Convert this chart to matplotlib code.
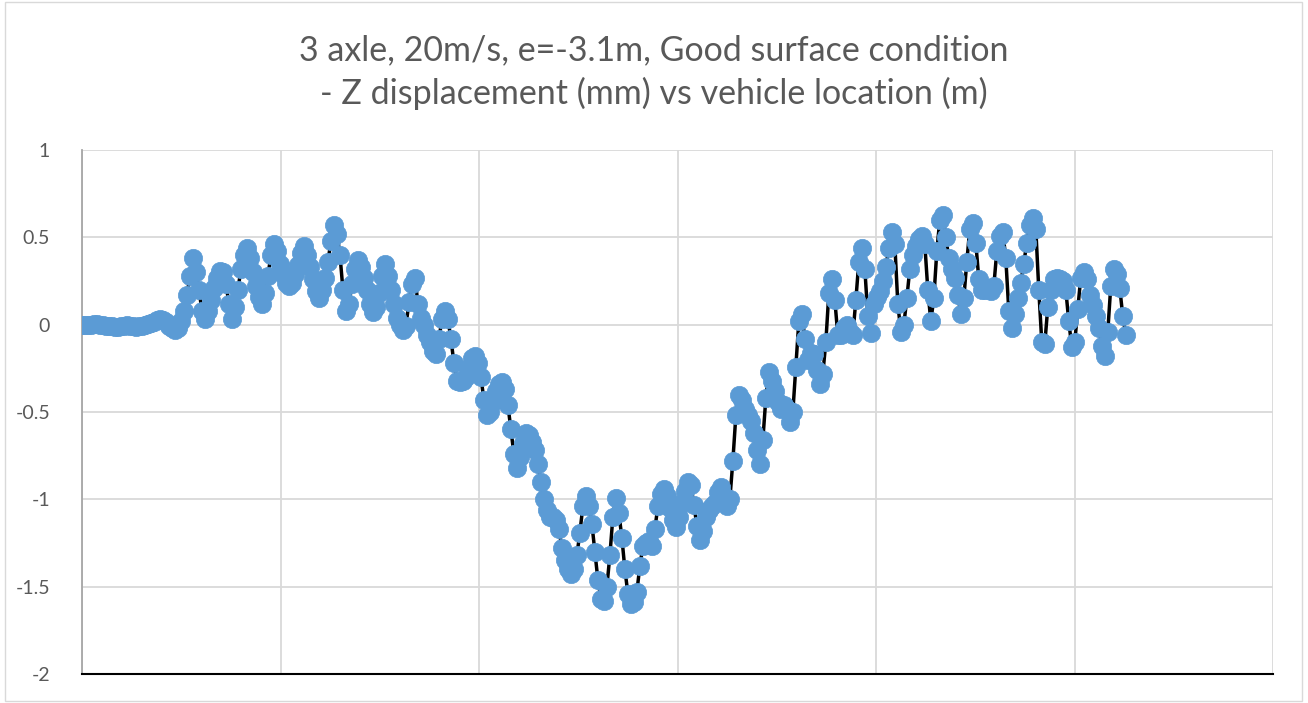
import numpy as np
import matplotlib
matplotlib.use("Agg")
import matplotlib.pyplot as plt
from matplotlib.patches import Rectangle

plt.rcParams['font.family'] = ['Lato', 'DejaVu Sans']

title = "3 axle, 20m/s, e=-3.1m, Good surface condition\n- Z displacement (mm) vs vehicle location (m)"

# Z displacement (mm), sampled at equal steps of vehicle location
z_disp = [
    0.0, 0.0, 0.0, 0.0, 0.003, 0.003, 0.0, -0.003, -0.005, -0.008,
    -0.01, -0.012, -0.012, -0.01, -0.005, -0.003, -0.005, -0.01, -0.012, -0.01,
    -0.005, 0.0, 0.005, 0.01, 0.015, 0.025, 0.03, 0.028, 0.015, -0.005,
    -0.02, -0.028, -0.02, 0.02, 0.08, 0.17, 0.28, 0.38, 0.3, 0.2,
    0.08, 0.03, 0.08, 0.14, 0.21, 0.27, 0.31, 0.3, 0.23, 0.12,
    0.03, 0.1, 0.2, 0.32, 0.4, 0.44, 0.38, 0.3, 0.22, 0.16,
    0.12, 0.18, 0.28, 0.4, 0.46, 0.42, 0.35, 0.29, 0.24, 0.22,
    0.24, 0.29, 0.34, 0.41, 0.45, 0.4, 0.33, 0.26, 0.19, 0.15,
    0.2, 0.27, 0.36, 0.48, 0.57, 0.52, 0.4, 0.2, 0.08, 0.12,
    0.23, 0.32, 0.37, 0.33, 0.27, 0.2, 0.12, 0.07, 0.1, 0.18,
    0.28, 0.35, 0.28, 0.2, 0.12, 0.04, 0.0, -0.03, -0.01, 0.13,
    0.23, 0.27, 0.12, 0.04, 0.0, -0.06, -0.1, -0.15, -0.17, -0.08,
    0.03, 0.08, 0.03, -0.08, -0.22, -0.32, -0.33, -0.32, -0.3, -0.25,
    -0.19, -0.18, -0.22, -0.3, -0.43, -0.52, -0.5, -0.44, -0.38, -0.34,
    -0.33, -0.37, -0.46, -0.6, -0.74, -0.82, -0.76, -0.68, -0.62, -0.63,
    -0.67, -0.72, -0.8, -0.9, -1.0, -1.06, -1.1, -1.1, -1.12, -1.17,
    -1.28, -1.35, -1.4, -1.43, -1.4, -1.32, -1.19, -1.04, -0.98, -1.04,
    -1.14, -1.3, -1.46, -1.57, -1.58, -1.5, -1.32, -1.1, -0.99, -1.08,
    -1.22, -1.4, -1.54, -1.6, -1.59, -1.53, -1.38, -1.27, -1.25, -1.24,
    -1.27, -1.17, -1.04, -0.97, -0.94, -0.98, -1.05, -1.12, -1.16, -1.1,
    -1.02, -0.95, -0.9, -0.92, -1.03, -1.15, -1.23, -1.18, -1.1, -1.06,
    -1.04, -1.02, -0.96, -0.93, -0.98, -1.04, -1.0, -0.78, -0.52, -0.4,
    -0.43, -0.48, -0.52, -0.55, -0.62, -0.72, -0.8, -0.66, -0.42, -0.27,
    -0.32, -0.38, -0.44, -0.48, -0.46, -0.48, -0.56, -0.5, -0.24, 0.02,
    0.06, -0.08, -0.2, -0.16, -0.17, -0.26, -0.34, -0.28, -0.1, 0.18,
    0.26, 0.14, -0.06, -0.06, -0.02, 0.0, -0.04, -0.06, 0.14, 0.36,
    0.44, 0.32, 0.05, -0.05, 0.12, 0.16, 0.19, 0.25, 0.33, 0.44,
    0.53, 0.46, 0.12, -0.04, 0.0, 0.15, 0.32, 0.4, 0.45, 0.49,
    0.51, 0.46, 0.2, 0.02, 0.15, 0.42, 0.6, 0.63, 0.5, 0.38,
    0.32, 0.27, 0.17, 0.06, 0.15, 0.36, 0.55, 0.58, 0.47, 0.26,
    0.2, 0.2, 0.21, 0.19, 0.22, 0.42, 0.51, 0.53, 0.38, 0.08,
    -0.02, 0.06, 0.15, 0.24, 0.35, 0.47, 0.57, 0.61, 0.55, 0.2,
    -0.1, -0.11, 0.1, 0.2, 0.26, 0.27, 0.26, 0.25, 0.2, 0.02,
    -0.13, -0.1, 0.09, 0.27, 0.3, 0.26, 0.17, 0.11, 0.05, -0.02,
    -0.12, -0.18, -0.04, 0.22, 0.32, 0.29, 0.21, 0.05, -0.06,
]

loc_step = 0.01511   # vehicle location increment between samples
location = np.arange(len(z_disp)) * loc_step

y_ticks = [1, 0.5, 0, -0.5, -1, -1.5, -2]
y_tick_labels = ["1", "0.5", "0", "-0.5", "-1", "-1.5", "-2"]
x_grid = [0, 1, 2, 3, 4, 5, 6]

W, H = 1308, 703
fig = plt.figure(figsize=(W / 100, H / 100), dpi=100)
fig.patch.set_facecolor("white")

# chart border
fig.add_artist(Rectangle((5 / W, 2 / H), 1297 / W, 699 / H, transform=fig.transFigure,
                         fill=False, edgecolor="#D9D9D9", linewidth=1.0))

ax = fig.add_axes([82 / W, 1 - 674 / H, (1273 - 82) / W, (674 - 150) / H])
ax.set_xlim(0, 6)
ax.set_ylim(-2, 1)

ax.plot(location, z_disp, color="black", linewidth=2.5, marker="o",
        markersize=13.2, markerfacecolor="#5B9BD5", markeredgecolor="#5B9BD5",
        markeredgewidth=0.5, zorder=3)

ax.set_yticks(y_ticks)
ax.set_yticklabels(y_tick_labels)
ax.set_xticks(x_grid)
ax.set_xticklabels([])
ax.tick_params(axis="both", length=0)
ax.tick_params(axis="y", pad=23, labelsize=14, labelcolor="#595959")
ax.grid(True, color="#D9D9D9", linewidth=1.3, zorder=0)
ax.set_axisbelow(True)

for side in ["top", "right"]:
    ax.spines[side].set_visible(False)
ax.spines["left"].set_color("#A6A6A6")
ax.spines["left"].set_linewidth(1.3)
ax.spines["bottom"].set_color("black")
ax.spines["bottom"].set_linewidth(1.5)
ax.spines["bottom"].set_zorder(4)

fig.text(0.5, 1 - 72 / H, title, ha="center", va="center", fontsize=24.5,
         color="#595959", linespacing=1.38)

fig.savefig("out.png", dpi=100)
